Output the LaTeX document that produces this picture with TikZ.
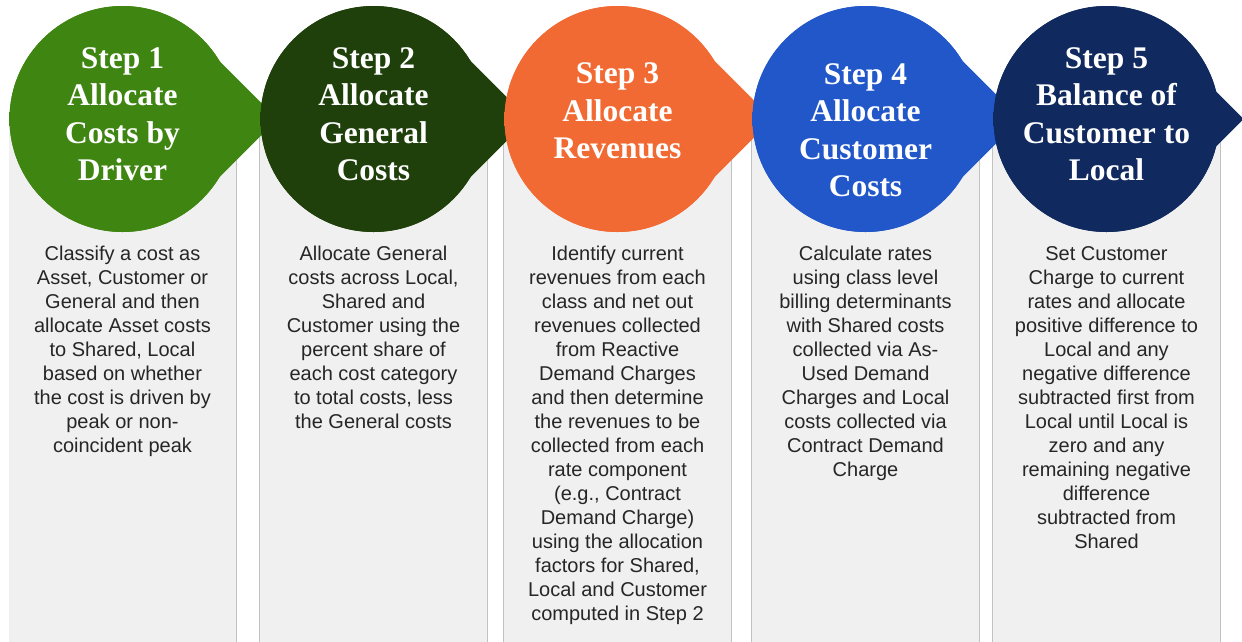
\documentclass[tikz,border=0pt]{standalone}
\usepackage{fontspec}
\setmainfont{Liberation Sans}
\newfontfamily\headfont{Liberation Serif}
\usepackage{tikz}
\usetikzlibrary{positioning}

\definecolor{stepgreen}{HTML}{3F8511}
\definecolor{stepforest}{HTML}{1F400A}
\definecolor{steporange}{HTML}{F26A33}
\definecolor{stepblue}{HTML}{2157C9}
\definecolor{stepnavy}{HTML}{10295F}
\definecolor{panelgray}{HTML}{F0F0F0}
\definecolor{panelline}{HTML}{C2C2C2}
\definecolor{bodytext}{HTML}{262626}

% darker rim on the left side of each circle
\colorlet{rimin}{stepgreen}
\colorlet{rimout}{black}
\pgfdeclareradialshading[rimin,rimout]{rim}{\pgfpoint{8bp}{0bp}}{%
  color(0bp)=(rimin); color(43bp)=(rimin); color(58bp)=(rimout); color(100bp)=(rimout)}

\begin{document}
\begin{tikzpicture}[
  x=1pt, y=-1pt,
  panel/.style={
    fill=panelgray, minimum width=227pt, minimum height=530pt,
    anchor=north, inner sep=0pt
  },
  edge/.style={draw=panelline, line width=1pt},
  head/.style={
    text=white, align=center, inner sep=0pt,
    font=\headfont\bfseries\fontsize{31.5}{37.5}\selectfont
  },
  body/.style={
    text=bodytext, align=center, anchor=north, inner sep=0pt,
    font=\fontsize{20}{24}\selectfont
  },
  % circle with a pointer to the right: #1 colour, #2 tip distance
  pics/drop/.style 2 args={code={
    \colorlet{rimin}{#1}
    \colorlet{rimout}{#1!55!black}
    \fill[#1] (0,0) circle (113);
    \fill[#1] (#2,0) -- ({#2-90},-90) -- ({#2-90},90) -- cycle;
    \shade[shading=rim] (0,0) circle (113);
  }},
]
\useasboundingbox (0,0) rectangle (1242,641);

% Panels
\node[panel] (p1) at (122.5, 120) {};
\node[panel] (p2) at (373.5, 120) {};
\node[panel] (p3) at (617.5, 120) {};
\node[panel] (p4) at (865.5, 120) {};
\node[panel] (p5) at (1106.5, 120) {};
\draw[edge] (p1.north east) -- (p1.south east);
\draw[edge] (p2.north west) -- (p2.south west) (p2.north east) -- (p2.south east);
\draw[edge] (p3.north west) -- (p3.south west) (p3.north east) -- (p3.south east);
\draw[edge] (p4.north west) -- (p4.south west) (p4.north east) -- (p4.south east);
\draw[edge] (p5.north west) -- (p5.south west) (p5.north east) -- (p5.south east);

% Step circles
\pic at (122.5, 119) {drop={stepgreen}{155}};
\pic at (373.5, 119) {drop={stepforest}{155}};
\pic at (617.5, 119) {drop={steporange}{155}};
\pic at (865.5, 119) {drop={stepblue}{155}};
\pic at (1106.5, 119) {drop={stepnavy}{137}};

\node[head] (s1) at (122.5, 114) {Step 1\\Allocate\\Costs by\\Driver};
\node[head] (s2) at (373.5, 114) {Step 2\\Allocate\\General\\Costs};
\node[head] (s3) at (617.5, 111) {Step 3\\Allocate\\Revenues};
\node[head] (s4) at (865.5, 130) {Step 4\\Allocate\\Customer\\Costs};
\node[head] (s5) at (1106.5, 114) {Step 5\\Balance of\\Customer to\\Local};

% Descriptions
\node[body] (t1) at (122.5, 246) {Classify a cost as\\Asset, Customer or\\General and then\\allocate Asset costs\\to Shared, Local\\based on whether\\the cost is driven by\\peak or non-\\coincident peak};
\node[body] (t2) at (373.5, 246) {Allocate General\\costs across Local,\\Shared and\\Customer using the\\percent share of\\each cost category\\to total costs, less\\the General costs};
\node[body] (t3) at (617.5, 246) {Identify current\\revenues from each\\class and net out\\revenues collected\\from Reactive\\Demand Charges\\and then determine\\the revenues to be\\collected from each\\rate component\\(e.g., Contract\\Demand Charge)\\using the allocation\\factors for Shared,\\Local and Customer\\computed in Step 2};
\node[body] (t4) at (865.5, 246) {Calculate rates\\using class level\\billing determinants\\with Shared costs\\collected via As-\\Used Demand\\Charges and Local\\costs collected via\\Contract Demand\\Charge};
\node[body] (t5) at (1106.5, 246) {Set Customer\\Charge to current\\rates and allocate\\positive difference to\\Local and any\\negative difference\\subtracted first from\\Local until Local is\\zero and any\\remaining negative\\difference\\subtracted from\\Shared};

\end{tikzpicture}
\end{document}
